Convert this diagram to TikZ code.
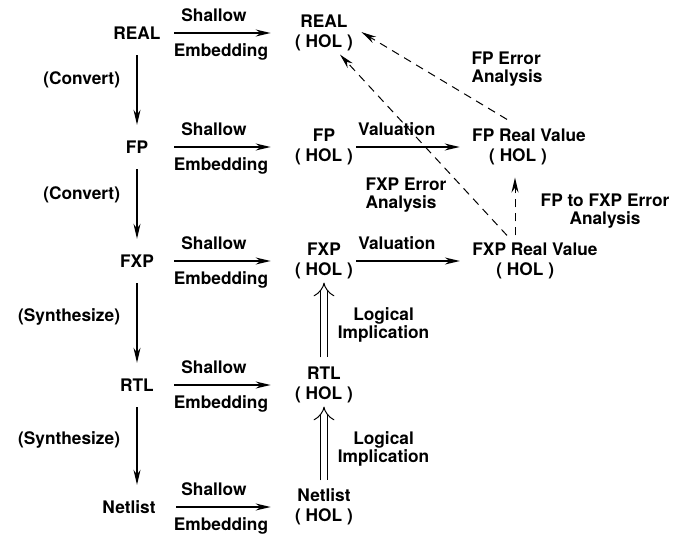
\documentclass[tikz,border=0pt]{standalone}
\usepackage{fontspec}
\setmainfont{TeX Gyre Heros}
\usetikzlibrary{arrows.meta}

\begin{document}
\begin{tikzpicture}[font=\bfseries\fontsize{17.3}{18}\selectfont, node distance=114pt,
	lvl/.style={minimum width=74pt, minimum height=44pt},
	hol/.style={align=center, font=\bfseries\fontsize{17.3}{20}\selectfont},
	arr/.style={->, >={Stealth[length=15pt,width=7pt]}, line width=1.3pt},
	err/.style={arr, line width=1pt, dash pattern=on 8pt off 6pt},
	impl/.style={-{Implies[length=9pt,width=18pt]}, double, double distance=6.5pt, line width=1pt}]
	\useasboundingbox (0,0) rectangle (686pt,-535pt);

	\node [lvl] (real) at (137pt,-33pt) {REAL};
	\node [lvl, below of=real] (fp) {FP};
	\node [lvl, below of=fp] (fxp) {FXP};
	\node [lvl, below of=fxp, yshift=-10pt] (rtl) {RTL};
	\node [lvl, below of=rtl, yshift=-8pt, xshift=-8pt] (netlist) {Netlist};

	\draw [arr] (real) -- node[left=13pt, pos=.36] (cv1) {(Convert)} (fp);
	\draw [arr] (fp) -- node[left=13pt, pos=.37] (cv2) {(Convert)} (fxp);
	\draw [arr] (fxp) -- node[left=13pt, pos=.42] (sy1) {(Synthesize)} (rtl);
	\draw [arr] (rtl) -- node[left=13pt, pos=.42] (sy2) {(Synthesize)} (rtl |- netlist.north);

	\node [hol, right of=real, xshift=73pt] (realhol) {REAL\\( HOL )};
	\node [hol, right of=fp, xshift=73pt] (fphol) {FP\\( HOL )};
	\node [hol, right of=fxp, xshift=73pt] (fxphol) {FXP\\( HOL )};
	\node [hol, right of=rtl, xshift=73pt] (rtlhol) {RTL\\( HOL )};
	\node [hol, right of=netlist, xshift=81pt] (netlisthol) {Netlist\\( HOL )};

	\node [right of=real, xshift=-37pt, yshift=18pt] (sh1) {Shallow};
	\node [right of=real, xshift=-30pt, yshift=-19pt] (em1) {Embedding};
	\node [right of=fp, xshift=-37pt, yshift=18pt] (sh2) {Shallow};
	\node [right of=fp, xshift=-30pt, yshift=-19pt] (em2) {Embedding};
	\node [right of=fxp, xshift=-37pt, yshift=18pt] (sh3) {Shallow};
	\node [right of=fxp, xshift=-30pt, yshift=-19pt] (em3) {Embedding};
	\node [right of=rtl, xshift=-37pt, yshift=18pt] (sh4) {Shallow};
	\node [right of=rtl, xshift=-30pt, yshift=-19pt] (em4) {Embedding};
	\node [right of=netlist, xshift=-29pt, yshift=18pt] (sh5) {Shallow};
	\node [right of=netlist, xshift=-22pt, yshift=-19pt] (em5) {Embedding};

	\draw [arr, shorten >=21pt] (real) -- (realhol);
	\draw [arr, shorten >=21pt] (fp) -- (fphol);
	\draw [arr, shorten >=21pt] (fxp) -- (fxphol);
	\draw [arr, shorten >=21pt] (rtl) -- (rtlhol);
	\draw [arr, shorten <=10pt, shorten >=21pt] (netlist) -- (netlisthol);

	\node [hol, align=left, right of=fphol, xshift=91pt] (fprv) {FP Real Value\\\hspace*{17pt}( HOL )};
	\node [hol, align=left, right of=fxphol, xshift=97pt] (fxprv) {FXP Real Value\\\hspace*{24pt}( HOL )};

	\draw [arr, shorten >=9pt] (fphol) -- node[above=7pt, pos=.36] (val1) {Valuation} (fprv);
	\draw [arr, shorten >=9pt] (fxphol) -- node[above=7pt, pos=.36] (val2) {Valuation} (fxprv);

	\draw [impl, shorten <=6pt] (rtlhol) -- node[right=10pt, pos=.47, align=center] (li1) {Logical\\Implication} (fxphol);
	\draw [impl, shorten <=5pt] (netlisthol) -- node[right=10pt, pos=.46, align=center] (li2) {Logical\\Implication} (rtlhol);

	\draw [err, shorten >=6pt] ([xshift=-22pt,yshift=6pt]fprv.north) -- ([yshift=4pt]realhol.east);
	\draw [err] ([xshift=-28pt,yshift=4pt]fxprv.north) -- ([xshift=16pt]realhol.south);
	\draw [err] ([xshift=-20pt,yshift=4pt]fxprv.north) -- ([xshift=-14pt,yshift=-9pt]fprv.south);

	\node [align=left, above of=fprv, yshift=-36pt, xshift=-22pt] (fperr) {FP Error\\Analysis};
	\node [align=left, above of=fxphol, yshift=-48pt, xshift=82pt] (fxperr) {FXP Error\\Analysis};
	\node [align=center, above of=fxprv, yshift=-64pt, xshift=70pt] (cmperr) {FP to FXP Error\\Analysis};
\end{tikzpicture}
\end{document}
